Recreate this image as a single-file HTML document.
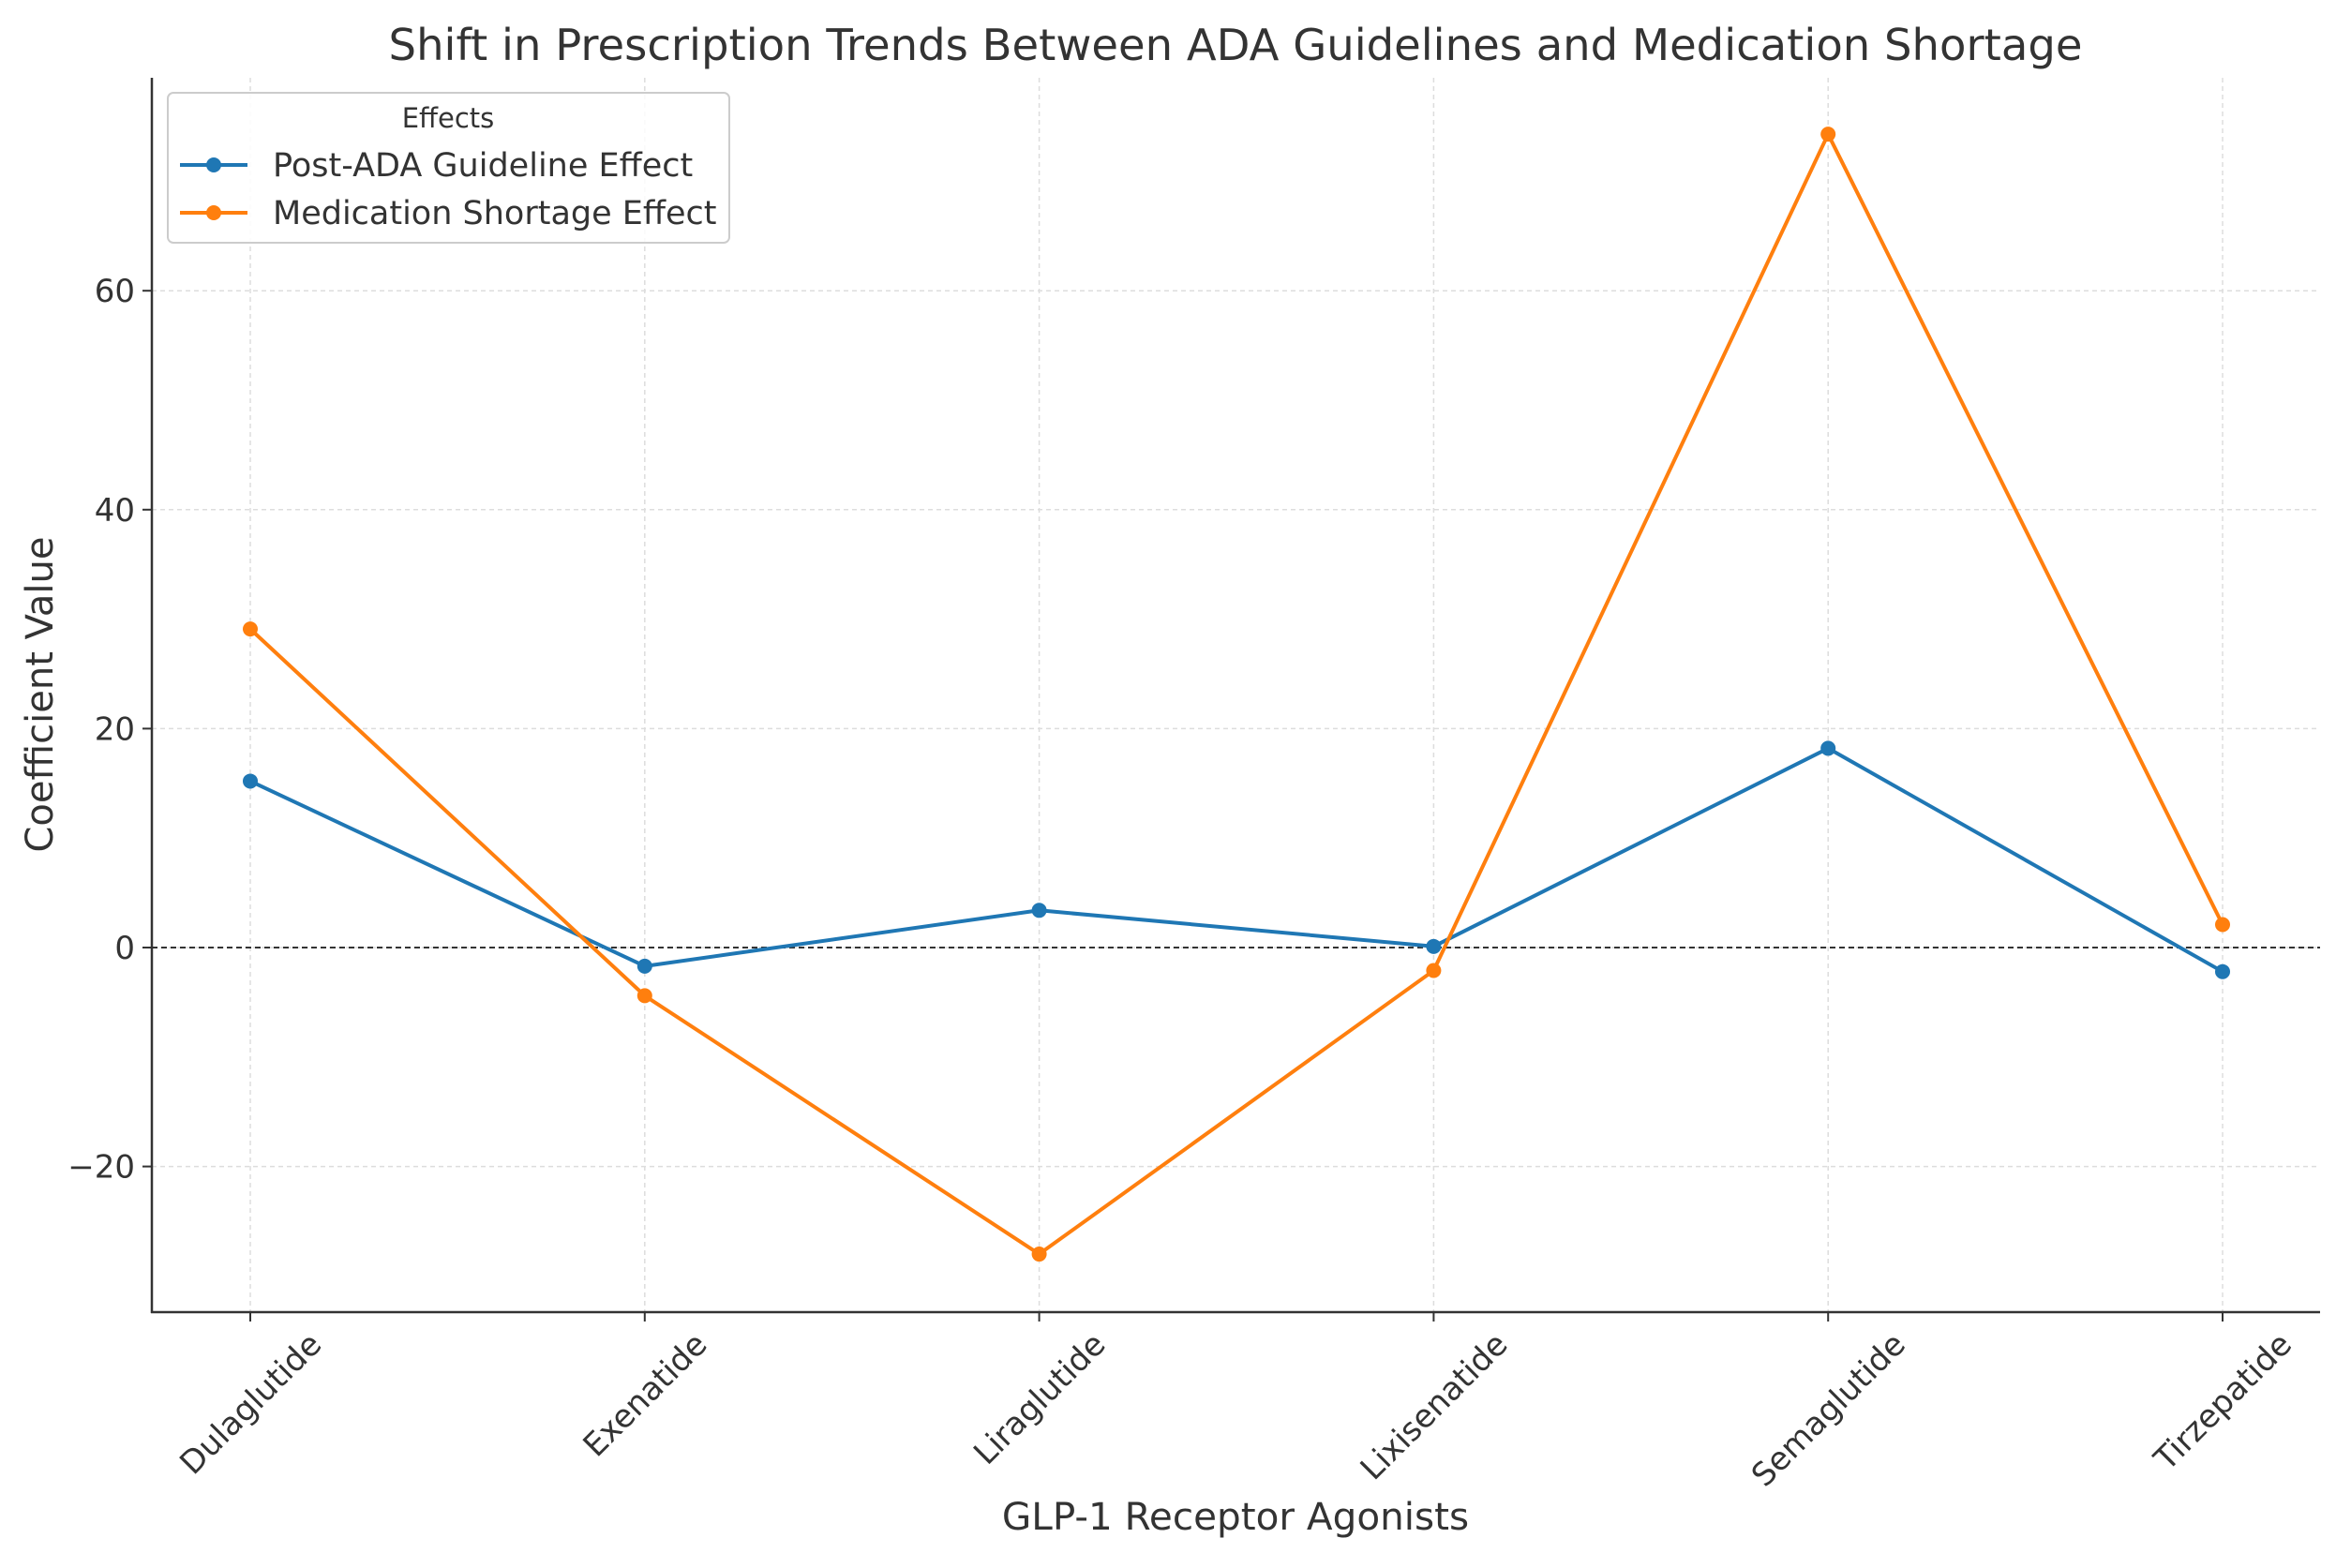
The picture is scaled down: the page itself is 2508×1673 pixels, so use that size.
<!DOCTYPE html>
<html><head><meta charset="utf-8"><style>
html,body{margin:0;padding:0;background:#fff;}
svg{display:block;font-family:"DejaVu Sans","Liberation Sans",sans-serif;}
</style></head><body>
<svg id="chart" width="2508" height="1673" viewBox="0 0 2508 1673" xmlns="http://www.w3.org/2000/svg">
<rect width="2508" height="1673" fill="#fff"/>
<g id="grid"></g>
<g id="axes"></g>
<g id="series"></g>
<text x="1318" y="64" text-anchor="middle" font-size="46.5" fill="#333">Shift in Prescription Trends Between ADA Guidelines and Medication Shortage</text>
<text x="1318" y="1632" text-anchor="middle" font-size="40.5" fill="#333">GLP-1 Receptor Agonists</text>
<text x="0" y="0" transform="translate(56,741) rotate(-90)" text-anchor="middle" font-size="40" fill="#333">Coefficient Value</text>
<g>
<rect x="179" y="99" width="599" height="160" rx="6" fill="#fff" fill-opacity="0.85" stroke="#ccc" stroke-width="2"/>
<text x="478" y="136" text-anchor="middle" font-size="29" fill="#333">Effects</text>
<g>
<line x1="192" y1="176" x2="264" y2="176" stroke="#1f77b4" stroke-width="4"/><circle cx="228" cy="176" r="8" fill="#1f77b4"/>
<text x="291" y="188" font-size="35" fill="#333">Post-ADA Guideline Effect</text></g>
<g>
<line x1="192" y1="227" x2="264" y2="227" stroke="#ff7f0e" stroke-width="4"/><circle cx="228" cy="227" r="8" fill="#ff7f0e"/>
<text x="291" y="239" font-size="35" fill="#333">Medication Shortage Effect</text></g>
</g>
</svg>
<script>
const categories=["Dulaglutide","Exenatide","Liraglutide","Lixisenatide","Semaglutide","Tirzepatide"];
const postAda=[15.2,-1.7,3.4,0.1,18.2,-2.2];
const shortage=[29.1,-4.4,-28,-2.1,74.3,2.1];
const yTicks=[-20,0,20,40,60];
const NS="http://www.w3.org/2000/svg";
const L=162,R=2475,T=83,B=1400;
const x0=267,xStep=420.8;
function xs(i){return x0+i*xStep;}
function ys(v){return 1011-v*233.6/20;}
function mk(tag,attrs,parent){const e=document.createElementNS(NS,tag);for(const k in attrs)e.setAttribute(k,attrs[k]);parent.appendChild(e);return e;}
const grid=document.getElementById('grid'),axes=document.getElementById('axes'),series=document.getElementById('series');
yTicks.forEach(v=>{
  const g=mk('line',{x1:L,x2:R,y1:ys(v),y2:ys(v),stroke:'#ddd','stroke-width':1.5,'stroke-dasharray':'5,4'},grid);
  
  
  const tk=mk('line',{x1:L-10,x2:L,y1:ys(v),y2:ys(v),stroke:'#333','stroke-width':2},axes);
  
  
  const t=mk('text',{x:L-18,y:ys(v)+12,'text-anchor':'end','font-size':34,fill:'#333'},axes);
  t.textContent=v<0?'\u2212'+Math.abs(v):String(v);
  
  
});
categories.forEach((c,i)=>{
  const g=mk('line',{x1:xs(i),x2:xs(i),y1:T,y2:B,stroke:'#ddd','stroke-width':1.5,'stroke-dasharray':'5,4'},grid);
  
  
  const tk=mk('line',{x1:xs(i),x2:xs(i),y1:B,y2:B+10,stroke:'#333','stroke-width':2},axes);
  
  
  const t=mk('text',{x:0,y:0,'text-anchor':'middle','font-size':34,fill:'#333'},axes);
  t.textContent=c;
  
  
  const w=t.getComputedTextLength();
  const h=(w+34)*0.7071;
  t.setAttribute('transform','translate('+xs(i)+','+(B+16+h/2)+') rotate(-45) translate(0,12)');
});
const zl=mk('line',{x1:L,x2:R,y1:ys(0),y2:ys(0),stroke:'#333','stroke-width':2,'stroke-dasharray':'6,4'},axes);


const ax1=mk('line',{x1:L,x2:L,y1:T,y2:B+1,stroke:'#333','stroke-width':2.5},axes);


const ax2=mk('line',{x1:L-1,x2:R,y1:B,y2:B,stroke:'#333','stroke-width':2.5},axes);


function draw(vals,color,name){
  const p=mk('polyline',{points:vals.map((v,i)=>xs(i)+','+ys(v)).join(' '),fill:'none',stroke:color,'stroke-width':4,'stroke-linejoin':'round'},series);
  
  
  vals.forEach((v,i)=>{
    const c=mk('circle',{cx:xs(i),cy:ys(v),r:8,fill:color},series);
    
    
  });
}
draw(postAda,'#1f77b4','post-ada');
draw(shortage,'#ff7f0e','shortage');
</script>
</body></html>
